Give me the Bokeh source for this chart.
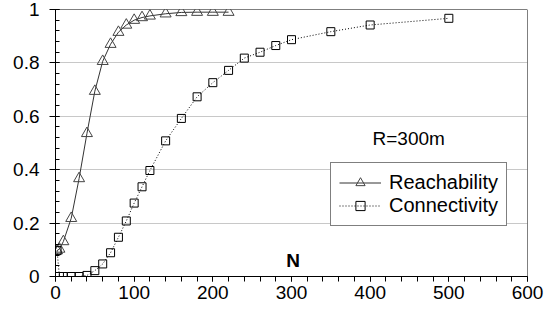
from bokeh.plotting import figure
from bokeh.models import Range1d, FixedTicker, Legend, LegendItem, Label, Span
from bokeh.embed import file_html
from bokeh.resources import INLINE

# Data
reach_n = [2, 5, 10, 20, 30, 40, 50, 60, 70, 80, 90, 100, 110, 120, 140, 160, 180, 200, 220]
reach = [0.097, 0.103, 0.131, 0.218, 0.367, 0.536, 0.694, 0.806, 0.87, 0.915, 0.942,
         0.96, 0.97, 0.976, 0.984, 0.989, 0.99, 0.99, 0.99]

conn_n = [2, 5, 10, 20, 30, 40, 50, 60, 70, 80, 90, 100, 110, 120, 140, 160, 180,
          200, 220, 240, 260, 280, 300, 350, 400, 500]
conn = [0.097, 0.0, 0.0, 0.0, 0.0, 0.004, 0.022, 0.047, 0.089, 0.147, 0.208, 0.275,
        0.336, 0.397, 0.508, 0.592, 0.673, 0.726, 0.772, 0.818, 0.84, 0.865, 0.887,
        0.917, 0.942, 0.967]

x_ticks = [0, 100, 200, 300, 400, 500, 600]
y_ticks = [0, 0.2, 0.4, 0.6, 0.8, 1]
y_tick_labels = ["0", "0.2", "0.4", "0.6", "0.8", "1"]

FONT = "Liberation Sans"

p = figure(width=546, height=310, output_backend="svg", toolbar_location=None,
           x_range=Range1d(0, 600), y_range=Range1d(0, 1.0),
           min_border_left=55, min_border_right=19, min_border_top=9,
           min_border_bottom=34)
p.background_fill_color = "white"
p.border_fill_color = "white"
p.outline_line_color = None

# Axes
p.xaxis.ticker = FixedTicker(ticks=x_ticks, minor_ticks=list(range(0, 601, 20)))
p.yaxis.ticker = FixedTicker(ticks=y_ticks, minor_ticks=[round(i * 0.04, 2) for i in range(26)])
p.yaxis.major_label_overrides = {t: l for t, l in zip(y_ticks, y_tick_labels)}
for ax in (p.xaxis[0], p.yaxis[0]):
    ax.axis_line_color = "black"
    ax.axis_line_width = 1
    ax.major_tick_line_color = "black"
    ax.minor_tick_line_color = "black"
    ax.major_label_text_font = FONT
    ax.major_label_text_font_size = "19px"
    ax.major_label_text_color = "black"
p.xaxis.major_tick_out = 5
p.xaxis.major_tick_in = 0
p.xaxis.minor_tick_out = 5
p.xaxis.minor_tick_in = 0
p.xaxis.major_label_standoff = 4
p.yaxis.major_tick_out = 6
p.yaxis.major_tick_in = 4
p.yaxis.minor_tick_out = 0
p.yaxis.minor_tick_in = 4
p.yaxis.major_label_standoff = 10

p.xgrid.visible = False
p.ygrid.grid_line_color = "#c8c8c8"
p.ygrid.grid_line_width = 1

# Frame lines top / right
p.add_layout(Span(location=1, dimension="width", line_color="black", line_width=1))
p.add_layout(Span(location=600, dimension="height", line_color="black", line_width=1))

# Series
r_line = p.line(reach_n, reach, line_color="#333333", line_width=1)
r_pts = p.scatter(reach_n, reach, marker="triangle", size=11, line_color="#444444",
                  fill_color=None, line_width=1)
c_line = p.line(conn_n, conn, line_color="black", line_width=1, line_dash="1 2")
c_pts = p.scatter(conn_n, conn, marker="square", size=8, line_color="black",
                  fill_color=None, line_width=1)

legend = Legend(items=[LegendItem(label="Reachability", renderers=[r_line, r_pts]),
                       LegendItem(label="Connectivity", renderers=[c_line, c_pts])],
                location=(275, 50), orientation="vertical",
                label_text_font=FONT, label_text_font_size="20px",
                label_text_color="black", glyph_width=42, glyph_height=23,
                label_height=23, label_standoff=8, padding=8, spacing=0, margin=0,
                border_line_color="black", border_line_width=1,
                background_fill_color="white", background_fill_alpha=1)
p.add_layout(legend, "center")

p.add_layout(Label(x=302, y=0.06, text="N", text_font=FONT, text_font_size="19px",
                   text_font_style="bold", text_align="center", text_baseline="middle",
                   text_color="black"))
p.add_layout(Label(x=449, y=0.517, text="R=300m", text_font=FONT, text_font_size="19px",
                   text_align="center", text_baseline="middle", text_color="black"))

open("out.html", "w").write(file_html(p, INLINE))
